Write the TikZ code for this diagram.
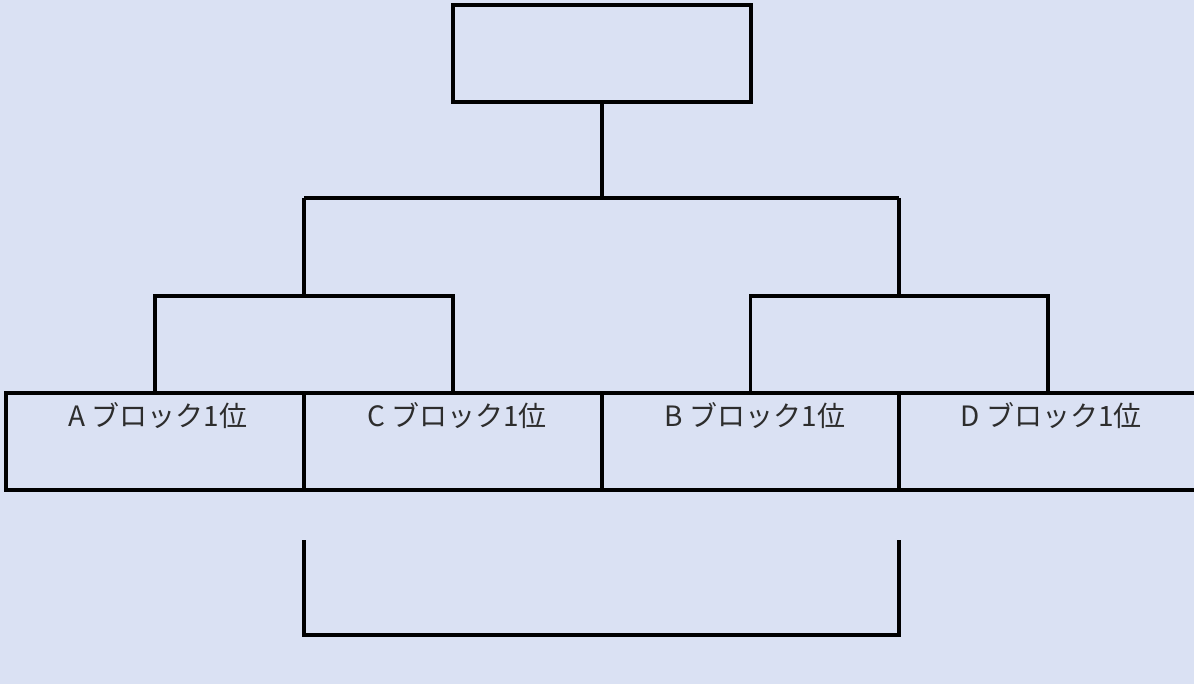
\documentclass[tikz,border=0pt]{standalone}
\usepackage{fontspec}
\setmainfont{Noto Sans CJK JP}
\definecolor{bgblue}{RGB}{218,225,243}
\definecolor{txtgray}{RGB}{45,45,45}
\begin{document}
\begin{tikzpicture}[x=1pt,y=-1pt,
  line width=3.5pt,
  box/.style={draw=black, line width=3.5pt, minimum height=97pt, inner sep=0pt, outer sep=0pt},
  lbl/.style={font=\fontsize{28}{32}\selectfont, text=txtgray, inner sep=0pt, anchor=north},
  wire/.style={draw=black, line width=3.5pt}]
\useasboundingbox (0,0) rectangle (1194,684);
\fill[bgblue] (0,0) rectangle (1194,684);
\begin{scope}
\clip (0,0) rectangle (1194,684);
% top box
\node[box, minimum width=298pt] (top) at (602,53.5) {};
% row of boxes
\node[box, minimum width=298pt] (a) at (155,441.5) {};
\node[box, minimum width=298pt] (c) at (453,441.5) {};
\node[box, minimum width=297pt] (b) at (750.5,441.5) {};
\node[box, minimum width=298pt] (d) at (1048,441.5) {};
\node[lbl] (la) at (158,401) {A ブロック1位};
\node[lbl] (lc) at (457,401) {C ブロック1位};
\node[lbl] (lb) at (755,401) {B ブロック1位};
\node[lbl] (ld) at (1051,401) {D ブロック1位};
% connectors
\coordinate (j) at (602,198);
\coordinate (jl) at (304,198);
\coordinate (jr) at (899,198);
\coordinate (kl) at (304,296);
\coordinate (kr) at (899,296);
\coordinate (al) at (155,296);
\coordinate (cl) at (453,296);
\coordinate (br) at (750.5,296);
\coordinate (dr) at (1048,296);
\draw[wire] (top.south) -- (j);
\draw[wire] (jl) -- (jr);
\draw[wire] (jl) -- (kl);
\draw[wire] (jr) -- (kr);
\draw[wire] (a.north) -- (al) -- (cl) -- (c.north);
\draw[wire] (b.north) -- (br) -- (dr) -- (d.north);
% bottom bracket
\coordinate (p1) at (304,540);
\coordinate (p2) at (304,635);
\coordinate (p3) at (899,635);
\coordinate (p4) at (899,540);
\draw[wire] (p1) -- (p2) -- (p3) -- (p4);
\end{scope}
\end{tikzpicture}
\end{document}
